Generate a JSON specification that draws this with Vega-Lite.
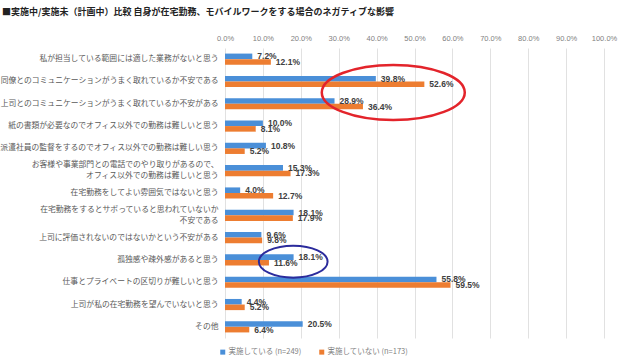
{
  "$schema": "https://vega.github.io/schema/vega-lite/v6.json",
  "autosize": "none",
  "width": 379,
  "height": 290,
  "padding": {"left": 225, "top": 48, "right": 16, "bottom": 22},
  "background": "white",
  "title": {
    "text": "■実施中/実施未（計画中）比較 自身が在宅勤務、モバイルワークをする場合のネガティブな影響",
    "anchor": "start",
    "frame": "group",
    "dx": -223,
    "dy": -9,
    "offset": 8,
    "font": "Noto Sans CJK JP",
    "fontSize": 9,
    "fontWeight": "bold",
    "color": "#222222"
  },
  "datasets": {
    "bars": [
      {"item": "私が担当している範囲には適した業務がないと思う", "series": "実施している (n=249)", "value": 7.2},
      {"item": "私が担当している範囲には適した業務がないと思う", "series": "実施していない (n=173)", "value": 12.1},
      {"item": "同僚とのコミュニケーションがうまく取れているか不安である", "series": "実施している (n=249)", "value": 39.8},
      {"item": "同僚とのコミュニケーションがうまく取れているか不安である", "series": "実施していない (n=173)", "value": 52.6},
      {"item": "上司とのコミュニケーションがうまく取れているか不安がある", "series": "実施している (n=249)", "value": 28.9},
      {"item": "上司とのコミュニケーションがうまく取れているか不安がある", "series": "実施していない (n=173)", "value": 36.4},
      {"item": "紙の書類が必要なのでオフィス以外での勤務は難しいと思う", "series": "実施している (n=249)", "value": 10.0},
      {"item": "紙の書類が必要なのでオフィス以外での勤務は難しいと思う", "series": "実施していない (n=173)", "value": 8.1},
      {"item": "派遣社員の監督をするのでオフィス以外での勤務は難しい思う", "series": "実施している (n=249)", "value": 10.8},
      {"item": "派遣社員の監督をするのでオフィス以外での勤務は難しい思う", "series": "実施していない (n=173)", "value": 5.2},
      {"item": "お客様や事業部門との電話でのやり取りがあるので、\nオフィス以外での勤務は難しいと思う", "series": "実施している (n=249)", "value": 15.3},
      {"item": "お客様や事業部門との電話でのやり取りがあるので、\nオフィス以外での勤務は難しいと思う", "series": "実施していない (n=173)", "value": 17.3},
      {"item": "在宅勤務をしてよい雰囲気ではないと思う", "series": "実施している (n=249)", "value": 4.0},
      {"item": "在宅勤務をしてよい雰囲気ではないと思う", "series": "実施していない (n=173)", "value": 12.7},
      {"item": "在宅勤務をするとサボっていると思われていないか\n不安である", "series": "実施している (n=249)", "value": 18.1},
      {"item": "在宅勤務をするとサボっていると思われていないか\n不安である", "series": "実施していない (n=173)", "value": 17.9},
      {"item": "上司に評価されないのではないかという不安がある", "series": "実施している (n=249)", "value": 9.6},
      {"item": "上司に評価されないのではないかという不安がある", "series": "実施していない (n=173)", "value": 9.8},
      {"item": "孤独感や疎外感があると思う", "series": "実施している (n=249)", "value": 18.1},
      {"item": "孤独感や疎外感があると思う", "series": "実施していない (n=173)", "value": 11.6},
      {"item": "仕事とプライベートの区切りが難しいと思う", "series": "実施している (n=249)", "value": 55.8},
      {"item": "仕事とプライベートの区切りが難しいと思う", "series": "実施していない (n=173)", "value": 59.5},
      {"item": "上司が私の在宅勤務を望んでいないと思う", "series": "実施している (n=249)", "value": 4.4},
      {"item": "上司が私の在宅勤務を望んでいないと思う", "series": "実施していない (n=173)", "value": 5.2},
      {"item": "その他", "series": "実施している (n=249)", "value": 20.5},
      {"item": "その他", "series": "実施していない (n=173)", "value": 6.4}
    ],
    "marks": [
      {"item": "同僚とのコミュニケーションがうまく取れているか不安である", "value": 44.4, "kind": "red"},
      {"item": "孤独感や疎外感があると思う", "value": 18.0, "kind": "blue"}
    ]
  },
  "encoding": {
    "x": {
      "field": "value",
      "type": "quantitative",
      "scale": {"domain": [0, 100], "nice": false},
      "axis": {
        "orient": "top",
        "title": null,
        "values": [0, 10, 20, 30, 40, 50, 60, 70, 80, 90, 100],
        "labelExpr": "format(datum.value, '.1f') + '%'",
        "labelOverlap": false,
        "labelFlush": false,
        "ticks": false,
        "domain": false,
        "grid": true,
        "gridColor": "#d9d9d9",
        "gridWidth": 0.8,
        "labelPadding": 6,
        "labelFont": "Liberation Sans",
        "labelFontSize": 7.5,
        "labelColor": "#7f7f7f"
      }
    },
    "y": {
      "field": "item",
      "type": "nominal",
      "sort": null,
      "scale": {"paddingInner": 0.5, "paddingOuter": 0.25},
      "axis": {
        "title": null,
        "ticks": false,
        "domain": false,
        "labelPadding": 7,
        "labelLimit": 400,
        "labelFont": "Noto Sans CJK JP",
        "labelFontSize": 7.8,
        "labelColor": "#595959",
        "labelLineHeight": 11,
        "labelOffset": {"condition": {"test": "indexof(datum.value, '\\n') >= 0", "value": -5.5}, "value": 0},
        "labelExpr": "split(datum.label, '\\n')"
      }
    }
  },
  "layer": [
    {
      "data": {"name": "bars"},
      "mark": {"type": "bar"},
      "encoding": {
        "yOffset": {"field": "series", "type": "nominal", "sort": ["実施している (n=249)", "実施していない (n=173)"], "scale": {"paddingInner": 0, "paddingOuter": 0}},
        "color": {
          "field": "series",
          "type": "nominal",
          "sort": ["実施している (n=249)", "実施していない (n=173)"],
          "scale": {"range": ["#4a8fd8", "#ed7d31"]},
          "legend": {
            "title": null,
            "orient": "none",
            "direction": "horizontal",
            "legendX": -6,
            "legendY": 300,
            "symbolType": "square",
            "symbolSize": 25,
            "symbolStrokeWidth": 0,
            "labelFont": "Noto Sans CJK JP",
            "labelFontSize": 7.5,
            "labelColor": "#7f7f7f",
            "columnPadding": 16,
            "labelOffset": 2
          }
        }
      }
    },
    {
      "data": {"name": "bars"},
      "transform": [{"calculate": "format(datum.value, '.1f') + '%'", "as": "label"}],
      "mark": {"type": "text", "align": "left", "baseline": "middle", "dx": 5, "font": "Liberation Sans", "fontSize": 8.5, "fontWeight": "bold", "color": "#404040"},
      "encoding": {
        "yOffset": {"field": "series", "type": "nominal", "sort": ["実施している (n=249)", "実施していない (n=173)"]},
        "text": {"field": "label", "type": "nominal"}
      }
    },
    {
      "data": {"name": "marks"},
      "transform": [{"filter": "datum.kind == 'red'"}],
      "mark": {"type": "point", "filled": false, "stroke": "#e3242b", "strokeWidth": 2.5, "size": 20449, "shape": "M -1 0.154 A 1 0.385 0 1 0 1 0.154 A 1 0.385 0 1 0 -1 0.154 Z", "opacity": 1},
      "encoding": {}
    },
    {
      "data": {"name": "marks"},
      "transform": [{"filter": "datum.kind == 'blue'"}],
      "mark": {"type": "point", "filled": false, "stroke": "#2b2b9c", "strokeWidth": 2, "size": 4720, "shape": "M -1 0.05 A 1 0.466 0 1 0 1 0.05 A 1 0.466 0 1 0 -1 0.05 Z", "opacity": 1},
      "encoding": {}
    }
  ],
  "config": {
    "view": {"stroke": null},
    "axis": {"labelOverlap": false}
  }
}
